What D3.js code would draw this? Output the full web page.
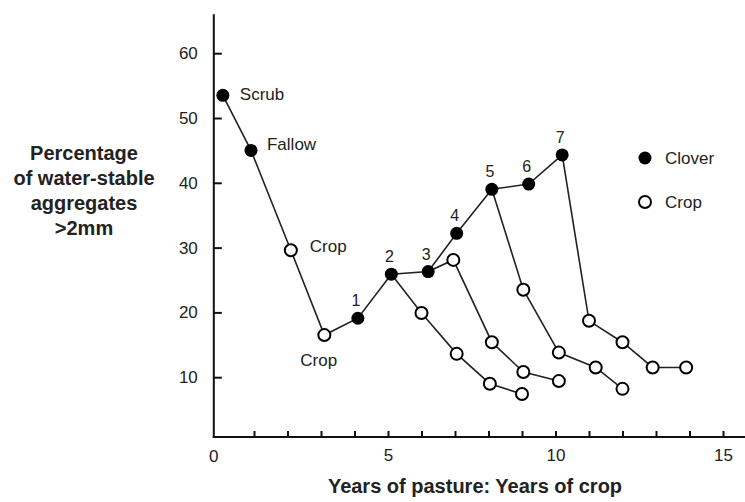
<!DOCTYPE html>
<html>
<head>
<meta charset="utf-8">
<script src="https://cdn.jsdelivr.net/npm/d3@7"></script>
<style>
    body { margin: 0; background: #fff; }
    svg text { font-family: "Liberation Sans", Arial, Helvetica, sans-serif; fill: #222; }
    .axis path.domain { display: none; }
    .axis line { stroke: #111; stroke-width: 2; }
</style>
</head>
<body>
<svg id="chart"></svg>
<script>
// Main sequence: scrub, fallow, two crop years, then clover years 1-7
let mainYears  = [0.07, 0.91, 2.1, 3.1, 4.1, 5.1, 6.2, 7.05, 8.1, 9.2, 10.2];
let mainValues = [53.5, 45.0, 29.6, 16.5, 19.1, 25.9, 26.3, 32.2, 39.0, 39.8, 44.3];
let mainTypes  = ['clover', 'clover', 'crop', 'crop', 'clover', 'clover', 'clover', 'clover', 'clover', 'clover', 'clover'];
let mainLabels = ['Scrub', 'Fallow', 'Crop', 'Crop', '1', '2', '3', '4', '5', '6', '7'];

// Crop runs that branch off after a clover year (index into the main sequence)
let branchStart  = [5, 6, 8, 10];
let branchYears  = [
    [6.0, 7.05, 8.04, 9.0],
    [6.95, 8.1, 9.04, 10.1],
    [9.04, 10.1, 11.2, 12.0],
    [11.0, 12.0, 12.9, 13.9]
];
let branchValues = [
    [19.9, 13.6, 9.0, 7.4],
    [28.1, 15.4, 10.8, 9.4],
    [23.5, 13.8, 11.5, 8.2],
    [18.7, 15.4, 11.5, 11.5]
];

let yTicks = [10, 20, 30, 40, 50, 60];
let xTicks = [1, 2, 3, 4, 5, 6, 7, 8, 9, 10, 11, 12, 13, 14, 15];
let xLabelled = [5, 10, 15];
let yTitle = ['Percentage', 'of water-stable', 'aggregates', '>2mm'];
let xTitle = 'Years of pasture: Years of crop';
let legendKeys = ['clover', 'crop'];
let legendNames = ['Clover', 'Crop'];

let config = { svg: { width: 745, height: 502 } };
let scales = {};

function translate(x, y) {
    return 'translate(' + x + ',' + y + ')';
}

let draw = function() {
    let svg = d3.select('#chart')
        .attr('width', config.svg.width)
        .attr('height', config.svg.height);

    scales.x = d3.scaleLinear().domain([0, 15]).range([220.5, 723]);
    scales.y = d3.scaleLinear().domain([0, 60]).range([442, 53.2]);

    let originX = scales.x(-0.2);
    let originY = scales.y(0.78);

    // axis lines (hand-drawn style: origin sits a little off zero)
    svg.append('line')
        .attr('x1', originX).attr('x2', originX)
        .attr('y1', scales.y(66)).attr('y2', originY + 1)
        .style('stroke', '#111').style('stroke-width', 2);
    svg.append('line')
        .attr('x1', originX - 1).attr('x2', config.svg.width)
        .attr('y1', originY).attr('y2', originY)
        .style('stroke', '#111').style('stroke-width', 2);

    let yAxis = d3.axisLeft(scales.y)
        .tickValues(yTicks)
        .tickSizeInner(-8)
        .tickSizeOuter(0)
        .tickPadding(16);
    svg.append('g')
        .attr('class', 'axis')
        .attr('transform', translate(originX, 0))
        .call(yAxis)
        .selectAll('text')
        .style('font-size', '17px');

    let xAxis = d3.axisBottom(scales.x)
        .tickValues(xTicks)
        .tickSizeInner(-6)
        .tickSizeOuter(0)
        .tickPadding(12)
        .tickFormat(d => xLabelled.includes(d) ? d : '');
    svg.append('g')
        .attr('class', 'axis')
        .attr('transform', translate(0, originY))
        .call(xAxis)
        .selectAll('text')
        .style('font-size', '17px');

    svg.append('text')
        .attr('x', originX)
        .attr('y', originY + 25)
        .attr('text-anchor', 'middle')
        .style('font-size', '17px')
        .text('0');

    // axis titles
    svg.append('text')
        .attr('x', 475)
        .attr('y', 493)
        .attr('text-anchor', 'middle')
        .style('font-size', '20px')
        .style('font-weight', 'bold')
        .text(xTitle);

    svg.append('g')
        .selectAll('text')
        .data(yTitle)
        .enter()
        .append('text')
        .attr('x', 84)
        .attr('y', (d, i) => 160 + i * 25)
        .attr('text-anchor', 'middle')
        .style('font-size', '20px')
        .style('font-weight', 'bold')
        .text(d => d);

    // build point lists
    let mainPoints = mainYears.map((d, i) => ({ x: d, y: mainValues[i], type: mainTypes[i], label: mainLabels[i] }));
    let branches = branchStart.map((s, b) => {
        let pts = [{ x: mainYears[s], y: mainValues[s] }];
        branchYears[b].forEach((d, i) => pts.push({ x: d, y: branchValues[b][i], type: 'crop' }));
        return pts;
    });

    let line = d3.line()
        .x(d => scales.x(d.x))
        .y(d => scales.y(d.y));

    let lines = svg.append('g').attr('class', 'lines');
    lines.append('path')
        .datum(mainPoints)
        .attr('d', line)
        .style('fill', 'none').style('stroke', '#222').style('stroke-width', 1.6);
    lines.selectAll('.branch')
        .data(branches)
        .enter()
        .append('path')
        .attr('class', 'branch')
        .attr('d', line)
        .style('fill', 'none').style('stroke', '#222').style('stroke-width', 1.6);

    let allPoints = mainPoints.concat(...branches.map(b => b.slice(1)));
    svg.append('g')
        .selectAll('circle')
        .data(allPoints)
        .enter()
        .append('circle')
        .attr('cx', d => scales.x(d.x))
        .attr('cy', d => scales.y(d.y))
        .attr('r', d => d.type === 'clover' ? 6.5 : 6)
        .style('fill', d => d.type === 'clover' ? '#000' : '#fff')
        .style('stroke', '#000')
        .style('stroke-width', d => d.type === 'clover' ? 0 : 2);

    // point labels: words sit to the right, numbers sit above
    let offsets = {
        'Scrub': [17, 5, 'start'],
        'Fallow': [16, 0, 'start'],
        'Crop': [19, 2, 'start']
    };
    svg.append('g')
        .selectAll('text')
        .data(mainPoints)
        .enter()
        .append('text')
        .attr('x', (d, i) => {
            if (i === 3) return scales.x(d.x) - 24;
            let o = offsets[d.label];
            return scales.x(d.x) + (o ? o[0] : -2);
        })
        .attr('y', (d, i) => {
            if (i === 3) return scales.y(d.y) + 31;
            let o = offsets[d.label];
            return scales.y(d.y) + (o ? o[1] : -12);
        })
        .attr('text-anchor', d => offsets[d.label] ? 'start' : 'middle')
        .style('font-size', d => offsets[d.label] ? '17px' : '16px')
        .text(d => d.label);

    // legend
    let legend = svg.append('g')
        .attr('transform', translate(645, 158));
    let items = legend.selectAll('g')
        .data(legendKeys)
        .enter()
        .append('g')
        .attr('transform', (d, i) => translate(0, i * 44));
    items.append('circle')
        .attr('r', d => d === 'clover' ? 6.5 : 6)
        .style('fill', d => d === 'clover' ? '#000' : '#fff')
        .style('stroke', '#000')
        .style('stroke-width', d => d === 'clover' ? 0 : 2);
    items.append('text')
        .attr('x', 20)
        .attr('y', 6)
        .style('font-size', '17px')
        .text((d, i) => legendNames[i]);
};

draw();
</script>
</body>
</html>
